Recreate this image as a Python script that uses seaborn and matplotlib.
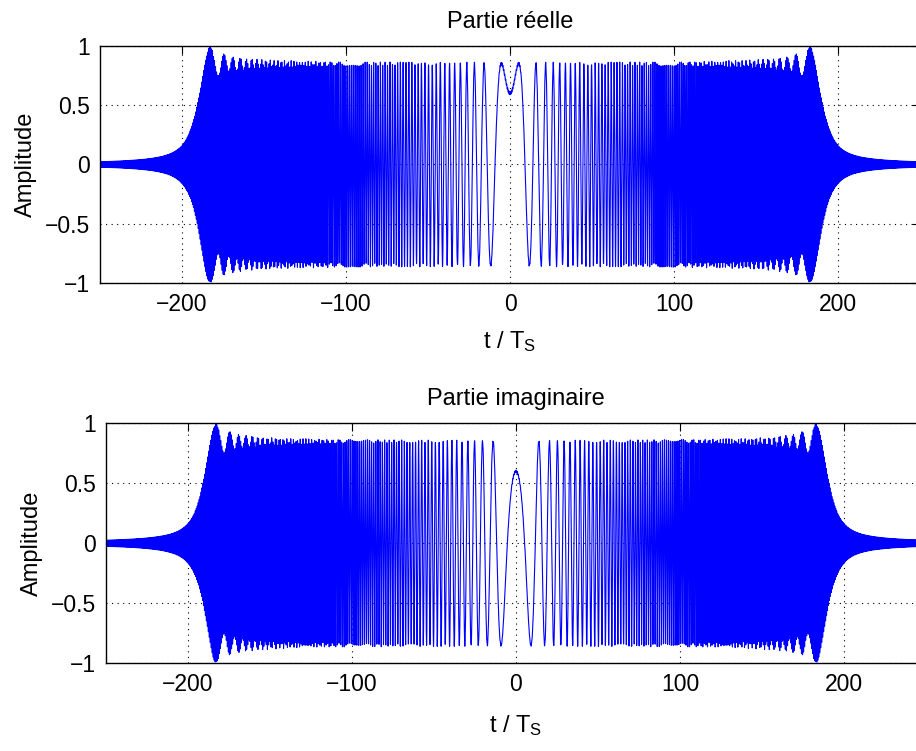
#Chirp (band-limited) : real and imaginary parts vs t / T_S
import numpy as np
import seaborn as sb
import matplotlib
matplotlib.use("Agg")
import matplotlib.pyplot as plt

# signal parameters
amplitude = 0.85        # plateau level
chirp_rate = 0.009      # k, in 1/T_S^2  (phase = pi/4 - pi*k*t^2)
t_edge = 192.0          # band edge seen in time (t = fc / k)
fs = 32                 # samples per T_S
n_fft = 65536

x_limits = [-250, 250]
x_ticks = [-200, -100, 0, 100, 200]
y_ticks = [-1, -0.5, 0, 0.5, 1]
y_ticklabels = ["\u22121", "\u22120.5", "0", "0.5", "1"]
titles = ["Partie réelle", "Partie imaginaire"]

# spectrum of the infinite chirp, cut at +/- fc, back to time
fc = chirp_rate * t_edge
f = np.fft.fftfreq(n_fft, d=1.0 / fs)
spec = amplitude / np.sqrt(chirp_rate) * np.exp(1j * np.pi * f**2 / chirp_rate)
spec[np.abs(f) > fc] = 0
sig = np.fft.fftshift(np.fft.ifft(spec)) * fs
t = (np.arange(n_fft) - n_fft // 2) / fs
keep = (t >= x_limits[0] - 5) & (t <= x_limits[1] + 5)
t = t[keep]
sig = sig[keep]
parts = [sig.real, sig.imag]

sb.set_style("white")
plt.rcParams["font.family"] = ["Liberation Sans", "DejaVu Sans"]
plt.rcParams["mathtext.fontset"] = "custom"
plt.rcParams["mathtext.rm"] = "Liberation Sans"
plt.rcParams["mathtext.it"] = "Liberation Sans"
plt.rcParams["text.color"] = "black"
plt.rcParams["axes.labelcolor"] = "black"

fig = plt.figure(figsize=(9.16, 7.51), dpi=100)
positions = [[0.1092, 0.6232, 0.8952, 0.3156],
             [0.1157, 0.1168, 0.8952, 0.3196]]
label_pads = [10, 12]

for pos, part, title, lp in zip(positions, parts, titles, label_pads):
    ax = fig.add_axes(pos)
    sb.lineplot(x=t, y=part, ax=ax, color=(0, 0, 1), lw=0.8,
                estimator=None, sort=False)
    ax.set_xlim(x_limits)
    ax.set_ylim(-1, 1)
    ax.set_xticks(x_ticks)
    ax.set_xticklabels([str(v).replace("-", "\u2212") for v in x_ticks])
    ax.set_yticks(y_ticks)
    ax.set_yticklabels(y_ticklabels)
    ax.grid(True, linestyle=(0, (1, 4)), color="black", linewidth=0.8)
    ax.tick_params(direction="in", length=6, width=0.8, labelsize=16.5,
                   top=True, right=True, colors="black", pad=7)
    for sp in ax.spines.values():
        sp.set_color("black")
        sp.set_linewidth(1.0)
    ax.set_title(title, fontsize=17, pad=13, color="black")
    ax.set_xlabel("t / T$_\\mathrm{S}$", fontsize=17, labelpad=lp)
    ax.set_ylabel("Amplitude", fontsize=17, labelpad=6)

plt.savefig("out.png", dpi=100)
